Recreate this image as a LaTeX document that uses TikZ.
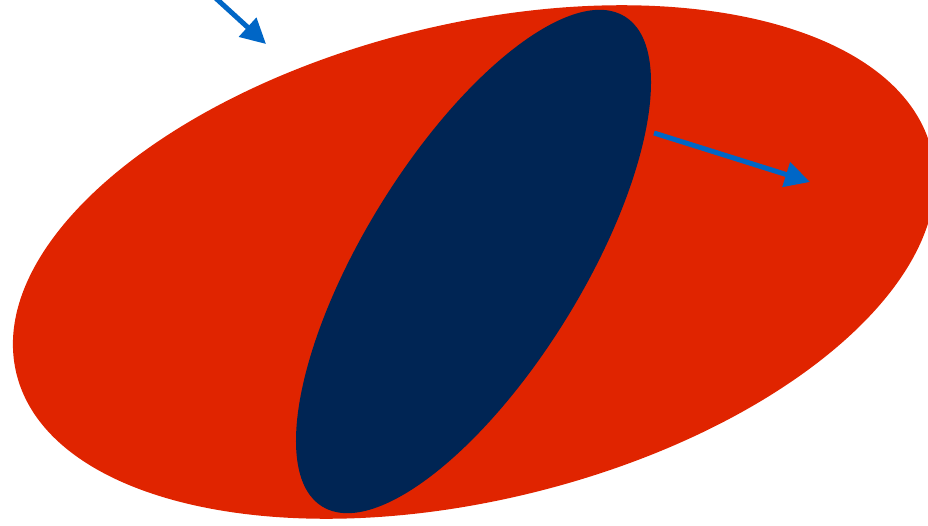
\documentclass[tikz,border=0pt]{standalone}
\usetikzlibrary{shapes.geometric,arrows.meta}
\definecolor{ovalred}{HTML}{E02400}
\definecolor{ovalnavy}{HTML}{002554}
\definecolor{arrowblue}{HTML}{0066C6}
\tikzset{
  oval/.style={ellipse,inner sep=0pt,outer sep=0pt,draw=none},
  vecarrow/.style={arrowblue,line width=5pt,-{Triangle[length=25pt,width=25pt]}}
}
\begin{document}
\begin{tikzpicture}[x=1pt,y=-1pt]
\useasboundingbox (0,0) rectangle (928,525);
\clip (0,0) rectangle (928,525);
\node[oval,fill=ovalred,minimum width=942pt,minimum height=476pt,rotate=13.7] (outer) at (474,262) {};
\node[oval,fill=ovalnavy,minimum width=576pt,minimum height=218pt,rotate=58.3] (inner) at (473.5,261.5) {};
\coordinate (a1s) at (209,-8);
\coordinate (a1e) at (266,44);
\coordinate (a2s) at (654,133);
\coordinate (a2e) at (810,182);
\draw[vecarrow] (a1s) -- (a1e);
\draw[vecarrow] (a2s) -- (a2e);
\end{tikzpicture}
\end{document}
